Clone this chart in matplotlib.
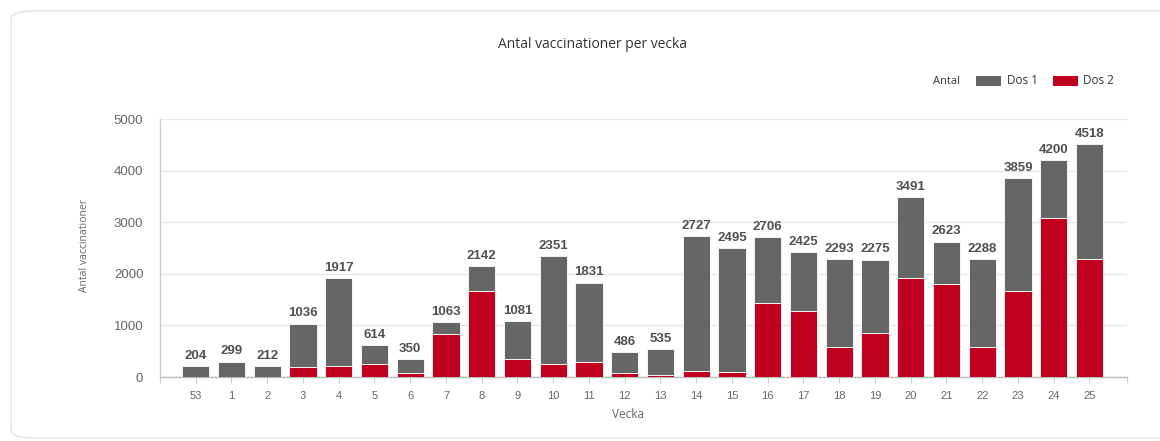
import matplotlib
matplotlib.use("Agg")
import matplotlib.pyplot as plt
from matplotlib.patches import FancyBboxPatch, Rectangle
import numpy as np

weeks = ["53", "1", "2", "3", "4", "5", "6", "7", "8", "9", "10", "11", "12",
         "13", "14", "15", "16", "17", "18", "19", "20", "21", "22", "23", "24", "25"]
totals = [204, 299, 212, 1036, 1917, 614, 350, 1063, 2142, 1081, 2351, 1831, 486,
          535, 2727, 2495, 2706, 2425, 2293, 2275, 3491, 2623, 2288, 3859, 4200, 4518]
dos2 = [0, 0, 0, 200, 220, 260, 75, 840, 1670, 340, 245, 295, 75,
        40, 115, 95, 1430, 1275, 575, 845, 1910, 1800, 590, 1675, 3085, 2280]
dos1 = [t - d for t, d in zip(totals, dos2)]

title = "Antal vaccinationer per vecka"
ylabel = "Antal vaccinationer"
xlabel = "Vecka"
yticks = [0, 1000, 2000, 3000, 4000, 5000]

GREY = "#666666"
RED = "#c0001f"
TXT = "#666666"

W, H = 1160, 441
fig = plt.figure(figsize=(W / 100, H / 100), dpi=100)
fig.patch.set_facecolor("white")

# card
card = FancyBboxPatch((11 / W, 3 / H), (W + 30) / W, (H - 14) / H,
                      boxstyle="round,pad=0,rounding_size=0.02",
                      transform=fig.transFigure, facecolor="none",
                      edgecolor="#e3e3e3", linewidth=1.0, zorder=-5)
fig.patches.append(card)

n = len(weeks)
ax = fig.add_axes([160 / W, (H - 377) / H, (1127 - 160) / W, (377 - 119) / H])
ax.set_facecolor("none")
x = np.arange(n)
ax.bar(x, dos2, width=0.76, color=RED, edgecolor="white", linewidth=0.6, zorder=3)
ax.bar(x, dos1, width=0.76, bottom=dos2, color=GREY, edgecolor="white", linewidth=0.6, zorder=3)

for xi, t in zip(x, totals):
    ax.annotate(str(t), (xi, t), xytext=(0, 3), textcoords="offset points",
                ha="center", va="bottom", fontsize=9.5, fontweight="bold",
                color="#505050", family="Liberation Sans", zorder=4)

x0, x1 = -1.0, n + 0.05
ax.set_xlim(x0, x1)
ax.set_ylim(0, 5000)
ax.set_yticks(yticks)
ax.set_yticklabels([str(v) for v in yticks], fontsize=9.5, color=TXT, family="Liberation Sans")
ax.set_xticks(x)
ax.set_xticklabels(weeks, fontsize=8, color=TXT, family="Liberation Sans")
ax.set_xticks([x0, x1], minor=True)
ax.tick_params(axis="x", which="major", length=4, color="#cccccc", width=0.8, pad=6)
ax.tick_params(axis="x", which="minor", length=4, color="#cccccc", width=0.8)
ax.tick_params(axis="y", length=0, pad=12)
ax.grid(axis="y", color="#e6e6e6", linewidth=1.0, zorder=0)
ax.set_axisbelow(True)
for s in ["top", "right"]:
    ax.spines[s].set_visible(False)
ax.spines["left"].set_color("#cccccc")
ax.spines["bottom"].set_color("#bbbbbb")
ax.spines["left"].set_linewidth(1.0)
ax.spines["bottom"].set_linewidth(1.0)

fig.text(85 / W, 1 - 245 / H, ylabel, rotation=90, ha="center", va="center",
         fontsize=7.5, color=TXT, family="Open Sans")
fig.text(628 / W, 1 - 415 / H, xlabel, ha="center", va="center",
         fontsize=8.5, color=TXT, family="Open Sans")
fig.text(593 / W, 1 - 45 / H, title, ha="center", va="center",
         fontsize=10, color="#333333", family="Open Sans")

# legend
ly = 1 - 81 / H
fig.text(933 / W, ly, "Antal", ha="left", va="center", fontsize=8,
         color="#333333", family="Open Sans")
fig.patches.append(Rectangle((976 / W, (H - 86) / H), 25 / W, 10 / H,
                             transform=fig.transFigure, facecolor=GREY, edgecolor="none"))
fig.text(1007 / W, ly, "Dos 1", ha="left", va="center", fontsize=8.5,
         color="#333333", family="Open Sans")
fig.patches.append(Rectangle((1053 / W, (H - 86) / H), 25 / W, 10 / H,
                             transform=fig.transFigure, facecolor=RED, edgecolor="none"))
fig.text(1083 / W, ly, "Dos 2", ha="left", va="center", fontsize=8.5,
         color="#333333", family="Open Sans")

fig.savefig("out.png", dpi=100)
